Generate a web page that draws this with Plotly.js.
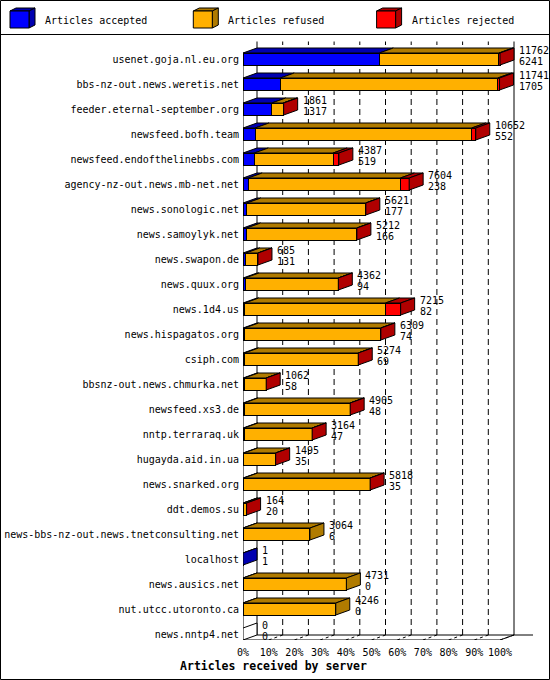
<!DOCTYPE html>
<html>
<head>
<meta charset="utf-8">
<script src="https://cdn.plot.ly/plotly-3.0.1.min.js"></script>
<style>
  html, body { margin: 0; padding: 0; background: #fff; }
  #chart { width: 550px; height: 680px; }
</style>
</head>
<body>
<div id="chart"></div>
<script>
var servers = ['usenet.goja.nl.eu.org', 'bbs-nz-out.news.weretis.net', 'feeder.eternal-september.org',
  'newsfeed.bofh.team', 'newsfeed.endofthelinebbs.com', 'agency-nz-out.news.mb-net.net',
  'news.sonologic.net', 'news.samoylyk.net', 'news.swapon.de', 'news.quux.org', 'news.1d4.us',
  'news.hispagatos.org', 'csiph.com', 'bbsnz-out.news.chmurka.net', 'newsfeed.xs3.de',
  'nntp.terraraq.uk', 'hugayda.aid.in.ua', 'news.snarked.org', 'ddt.demos.su',
  'news-bbs-nz-out.news.tnetconsulting.net', 'localhost', 'news.ausics.net',
  'nut.utcc.utoronto.ca', 'news.nntp4.net'];
var received = [11762, 11741, 1861, 10652, 4387, 7604, 5621, 5212, 685, 4362, 7215, 6309,
  5274, 1062, 4905, 3164, 1495, 5818, 164, 3064, 1, 4731, 4246, 0];
var accepted = [6241, 1705, 1317, 552, 519, 238, 177, 166, 131, 94, 82, 74,
  69, 58, 48, 47, 35, 35, 20, 6, 1, 0, 0, 0];
var refused = [5475, 9956, 520, 9915, 3605, 6964, 5444, 5046, 554, 4268, 6441, 6235,
  5205, 1004, 4857, 3117, 1460, 5783, 144, 3058, null, 4731, 4246, null];
var rejected = [46, 80, 24, 185, 263, 402, 0, 0, 0, 0, 692, 0,
  0, 0, 0, 0, 0, 0, 0, null, null, null, null, null];
var pctTicks = [0, 10, 20, 30, 40, 50, 60, 70, 80, 90, 100];
var pctLabels = ['0%', '10%', '20%', '30%', '40%', '50%', '60%', '70%', '80%', '90%', '100%'];

var FONT = 'DejaVu Sans Mono, Liberation Mono, monospace';
var M = {l: 243, r: 6, t: 36, b: 40};
var W = 550 - M.l - M.r, H = 680 - M.t - M.b;
var PX_X = 2.57, PX_Y = 25;           // px per percent, px per row
var DX = 14 / PX_X, DY = 5 / PX_Y;    // depth of the 3d effect in axis units
var HALF = 0.24;                      // half bar thickness (rows)

var maxRecv = Math.max.apply(null, received);
function pct(v) { return v == null ? null : v / maxRecv * 100; }
var rows = servers.map(function (s, i) { return i; });

var series = [
  {name: 'Articles accepted', vals: accepted, face: '#0000ff', dark: '#0000b0'},
  {name: 'Articles refused', vals: refused, face: '#ffb000', dark: '#b07b00'},
  {name: 'Articles rejected', vals: rejected, face: '#ff0000', dark: '#b00000'}
];

// front faces
var data = series.map(function (s) {
  return {
    type: 'bar', orientation: 'h', name: s.name,
    x: s.vals.map(pct), y: rows, width: 2 * HALF,
    marker: {color: s.face, line: {color: '#000', width: 1}},
    hoverinfo: 'skip', showlegend: false
  };
});

// top faces of every segment, side face of the last one
var tops = series.map(function () { return {x: [], y: []}; });
var sides = series.map(function () { return {x: [], y: []}; });
var empty = {x: [], y: []};
function side(p, e, i) {
  p.x.push(e, e, e + DX, e + DX, e, null);
  p.y.push(i - HALF, i + HALF, i + HALF - DY, i - HALF - DY, i - HALF, null);
}
rows.forEach(function (i) {
  if (!received[i]) { side(empty, 0, i); return; }
  var start = 0, last = -1;
  series.forEach(function (s, k) {
    var v = s.vals[i];
    if (v == null) return;
    var a = start, b = start + pct(v);
    tops[k].x.push(a, b, b + DX, a + DX, a, null);
    tops[k].y.push(i - HALF, i - HALF, i - HALF - DY, i - HALF - DY, i - HALF, null);
    start = b; last = k;
  });
  if (last >= 0) side(sides[last], start, i);
});
function face(p, fill) {
  if (!p.x.length) return;
  data.push({
    type: 'scatter', mode: 'lines', x: p.x, y: p.y,
    fill: 'toself', fillcolor: fill,
    line: {color: '#000', width: 1}, hoverinfo: 'skip', showlegend: false
  });
}
series.forEach(function (s, k) { face(tops[k], s.dark); face(sides[k], s.dark); });
face(empty, '#fff');

// value labels right of each bar
var annotations = [];
rows.forEach(function (i) {
  var xe = pct(received[i]) + DX;
  [[received[i], 9], [accepted[i], -2]].forEach(function (t) {
    annotations.push({
      x: xe, y: i, xref: 'x', yref: 'y', text: String(t[0]), showarrow: false,
      xanchor: 'left', yanchor: 'middle', xshift: 3, yshift: t[1],
      font: {family: FONT, size: 10, color: '#000'}
    });
  });
});

// back walls, grid and floor
var floorF = rows.length - 1 + HALF, floorB = floorF - DY, topB = -0.7;
var shapes = [];
function ln(x0, y0, x1, y1, dash) {
  shapes.push({type: 'line', layer: 'below', xref: 'x', yref: 'y', x0: x0, y0: y0, x1: x1, y1: y1,
    line: {color: '#000', width: 1, dash: dash || 'solid'}});
}
pctTicks.forEach(function (t) {
  if (t > 0 && t < 100) ln(t + DX, floorB, t + DX, topB, '6px,4px');
  if (t > 0) ln(t, floorF, t + DX, floorB, '3px,3px');
});
ln(DX, floorB, DX, topB);
ln(100 + DX, floorB, 100 + DX, topB);
ln(0, floorF, 0, -HALF);
ln(0, floorF, 100, floorF);
ln(100, floorF, 100 + DX, floorB);
ln(DX, floorB, 100 + DX + 7.4, floorB);

// page frame and legend
function px(x) { return (x - M.l) / W; }
function py(y) { return (680 - M.b - y) / H; }
function pshape(pts, fill) {
  var d = pts.map(function (p, j) { return (j ? 'L' : 'M') + px(p[0]) + ',' + py(p[1]); }).join('') + 'Z';
  shapes.push({type: 'path', xref: 'paper', yref: 'paper', path: d, fillcolor: fill,
    line: {color: '#000', width: 1}});
}
shapes.push({type: 'rect', xref: 'paper', yref: 'paper', x0: px(0.5), x1: px(549.5), y0: py(0.5), y1: py(679.5),
  line: {color: '#000', width: 1}});
shapes.push({type: 'line', xref: 'paper', yref: 'paper', x0: px(0), x1: px(550), y0: py(34.5), y1: py(34.5),
  line: {color: '#000', width: 1}});
series.forEach(function (s, k) {
  var x0 = 10 + k * 183.3;
  pshape([[x0, 11], [x0 + 19, 11], [x0 + 25, 8], [x0 + 6, 8]], s.dark);
  pshape([[x0 + 19, 11], [x0 + 19, 28], [x0 + 25, 25], [x0 + 25, 8]], s.dark);
  pshape([[x0, 11], [x0 + 19, 11], [x0 + 19, 28], [x0, 28]], s.face);
  annotations.push({x: px(x0 + 33), y: py(20), xref: 'paper', yref: 'paper', text: s.name,
    showarrow: false, xanchor: 'left', yanchor: 'middle',
    font: {family: FONT, size: 10, color: '#000'}});
});

var layout = {
  width: 550, height: 680,
  margin: M,
  paper_bgcolor: '#fff', plot_bgcolor: '#fff',
  barmode: 'stack',
  showlegend: false,
  font: {family: FONT, size: 10, color: '#000'},
  title: {
    text: 'Articles received by server',
    font: {family: FONT, size: 11.5, weight: 'bold', color: '#000'},
    x: 273.5 / 550, xref: 'container', xanchor: 'center',
    y: 14 / 680, yref: 'container', yanchor: 'middle'
  },
  xaxis: {
    range: [0, W / PX_X], tickvals: pctTicks, ticktext: pctLabels,
    showgrid: false, zeroline: false, showline: false, ticks: '',
    ticklabelstandoff: 5, fixedrange: true
  },
  yaxis: {
    range: [floorF, floorF - H / PX_Y], tickvals: rows, ticktext: servers,
    showgrid: false, zeroline: false, showline: false, ticks: '',
    ticklabelstandoff: 3, fixedrange: true
  },
  shapes: shapes,
  annotations: annotations
};

Plotly.newPlot('chart', data, layout, {displayModeBar: false, staticPlot: true});
</script>
</body>
</html>
